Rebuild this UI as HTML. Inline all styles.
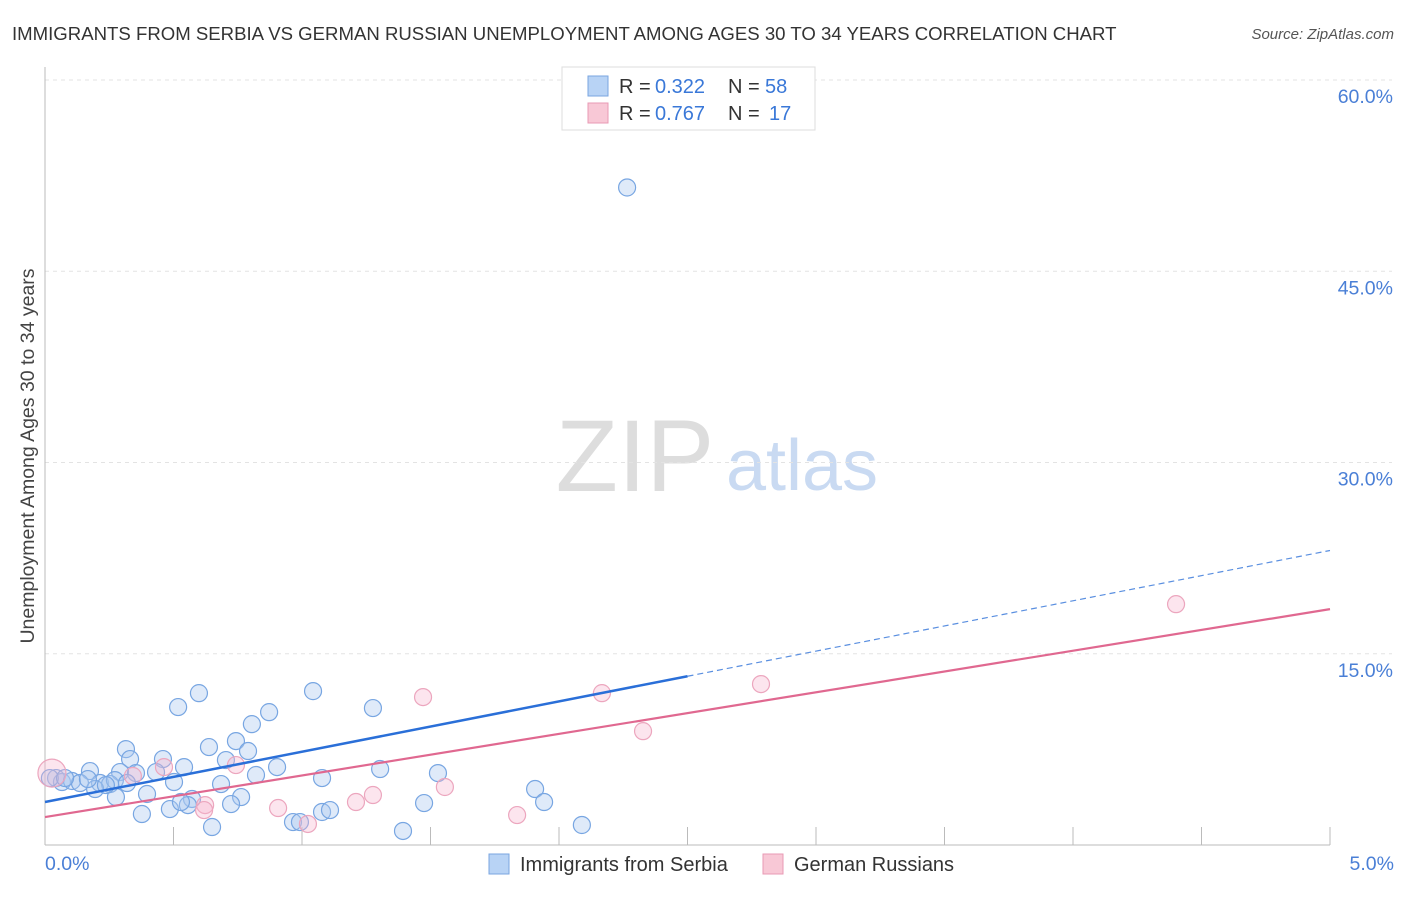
<!DOCTYPE html>
<html><head><meta charset="utf-8"><style>
body{margin:0;background:#fff;font-family:"Liberation Sans",sans-serif}
svg text{font-family:"Liberation Sans",sans-serif}
</style></head><body>
<svg id="chart" width="1406" height="892">
<text x="12" y="40" font-size="18.6" fill="#333">IMMIGRANTS FROM SERBIA VS GERMAN RUSSIAN UNEMPLOYMENT AMONG AGES 30 TO 34 YEARS CORRELATION CHART</text>
<text x="1394" y="39" font-size="15" fill="#555" font-style="italic" text-anchor="end">Source: ZipAtlas.com</text>
<g>
<text x="635" y="491" font-size="102" fill="#ddd" font-family="Liberation Serif,serif" text-anchor="middle">ZIP</text>
<text x="802" y="490" font-size="72" fill="#c9daf2" text-anchor="middle">atlas</text>
</g>
<g id="grid"></g><g id="axes"></g><g id="pts"></g><g id="lines"></g>
<text transform="translate(34,456) rotate(-90)" font-size="19.5" fill="#444" text-anchor="middle">Unemployment Among Ages 30 to 34 years</text>
<g>
<rect x="562" y="67" width="253" height="63" fill="#fff" stroke="#ddd"/>
<rect x="588" y="76" width="20" height="20" fill="#b8d3f5" stroke="#7aa6e0"/>
<text x="619" y="93" font-size="20" fill="#333">R =</text>
<text x="655" y="93" font-size="20" fill="#3a78d8">0.322</text>
<text x="728" y="93" font-size="20" fill="#333">N =</text>
<text x="765" y="93" font-size="20" fill="#3a78d8">58</text>
<rect x="588" y="103" width="20" height="20" fill="#f8c8d6" stroke="#e89ab4"/>
<text x="619" y="120" font-size="20" fill="#333">R =</text>
<text x="655" y="120" font-size="20" fill="#3a78d8">0.767</text>
<text x="728" y="120" font-size="20" fill="#333">N =</text>
<text x="769" y="120" font-size="20" fill="#3a78d8">17</text>
</g>
<g>
<rect x="489" y="854" width="20" height="20" fill="#b8d3f5" stroke="#7aa6e0"/>
<text x="520" y="871" font-size="20" fill="#333">Immigrants from Serbia</text>
<rect x="763" y="854" width="20" height="20" fill="#f8c8d6" stroke="#e89ab4"/>
<text x="794" y="871" font-size="20" fill="#333">German Russians</text>
</g>
</svg>
<script>
const blueX=[2.265,0.518,0.599,1.043,1.276,0.872,0.805,0.315,0.638,0.743,0.790,0.331,0.459,0.432,0.541,0.292,0.354,0.175,0.043,0.066,0.105,0.136,0.214,0.253,0.195,0.502,0.704,0.821,0.903,1.078,1.304,1.529,0.685,0.276,0.397,0.572,0.556,0.763,0.724,0.486,0.377,0.650,0.965,1.078,1.109,1.475,1.907,1.942,1.393,2.089,0.019,0.167,0.272,0.529,0.078,0.319,0.237,0.992];
const blueY=[51.57,10.82,11.91,12.07,10.74,10.42,9.48,7.52,7.68,8.15,7.37,6.74,6.74,5.72,6.11,5.72,5.64,5.80,5.25,4.94,5.02,4.86,4.86,4.78,4.39,4.94,6.66,5.49,6.11,5.25,5.96,5.64,4.78,3.76,4.00,3.61,3.13,3.76,3.21,2.82,2.43,1.41,1.80,2.59,2.74,3.29,4.39,3.37,1.10,1.57,5.25,5.17,5.09,3.37,5.25,4.86,4.70,1.80];
const pinkX=[0.027,0.463,0.342,0.623,0.619,0.743,0.907,1.023,1.210,1.276,1.471,1.556,1.837,2.167,2.327,2.786,4.401];
const pinkY=[5.64,6.11,5.41,3.13,2.74,6.27,2.90,1.65,3.37,3.92,11.60,4.55,2.35,11.91,8.93,12.62,18.89];
const blueTrend=[3.37,23.1];
const pinkTrend=[2.19,18.5];
const yTicks=[15,30,45,60];
const xTickLabels=["0.0%","5.0%"];
const NS="http://www.w3.org/2000/svg";
const X0=45,X1=1330,Y0=845,YTOP=80;
const sx=v=>X0+(X1-X0)*v/5;
const sy=v=>Y0-(Y0-YTOP)*v/60;
function mk(tag,attrs,parent){const e=document.createElementNS(NS,tag);for(const k in attrs)e.setAttribute(k,attrs[k]);document.getElementById(parent).appendChild(e);return e;}
yTicks.forEach(t=>{
 const l=mk('line',{x1:X0,x2:1392,y1:sy(t),y2:sy(t),stroke:'#e3e3e3','stroke-dasharray':'4,4'},'grid');
 
 
 const tx=mk('text',{x:1393,y:sy(t)+23,'font-size':19.5,fill:'#4a7fd6','text-anchor':'end'},'grid');
 tx.textContent=t.toFixed(1)+'%';
 
 
});
const ax=mk('line',{x1:X0,x2:X1,y1:Y0,y2:Y0,stroke:'#bbb'},'axes');


const ay=mk('line',{x1:X0,x2:X0,y1:67,y2:Y0,stroke:'#bbb'},'axes');


for(let i=1;i<=10;i++){
 const t=mk('line',{x1:sx(i*0.5),x2:sx(i*0.5),y1:Y0,y2:Y0-18,stroke:'#bbb'},'axes');
 
 
}
[[0,'start',45],[5,'end',1394]].forEach((p,i)=>{
 const t=mk('text',{x:p[2],y:870,'font-size':19.5,fill:'#4a7fd6','text-anchor':p[1]},'axes');
 t.textContent=xTickLabels[i];
 
 
});
blueX.forEach((v,i)=>{
 const c=mk('circle',{cx:sx(v),cy:sy(blueY[i]),r:8.5,fill:'rgba(170,200,240,0.38)',stroke:'#78a6e2','stroke-width':1.2},'pts');
 
 
});
pinkX.forEach((v,i)=>{
 const c=mk('circle',{cx:sx(v),cy:sy(pinkY[i]),r:i===0?14:8.5,fill:'rgba(245,180,205,0.35)',stroke:'#eca6be','stroke-width':1.2},'pts');
 
 
});
const by=x=>blueTrend[0]+(blueTrend[1]-blueTrend[0])*x/5;
const py=x=>pinkTrend[0]+(pinkTrend[1]-pinkTrend[0])*x/5;
const bl=mk('line',{x1:sx(0),y1:sy(by(0)),x2:sx(2.5),y2:sy(by(2.5)),stroke:'#2a6fd8','stroke-width':2.5},'lines');


const bd=mk('line',{x1:sx(2.5),y1:sy(by(2.5)),x2:sx(5),y2:sy(by(5)),stroke:'#5a8fe0','stroke-width':1.2,'stroke-dasharray':'6,4'},'lines');


const pl=mk('line',{x1:sx(0),y1:sy(py(0)),x2:sx(5),y2:sy(py(5)),stroke:'#e06890','stroke-width':2.2},'lines');


</script>
</body></html>
